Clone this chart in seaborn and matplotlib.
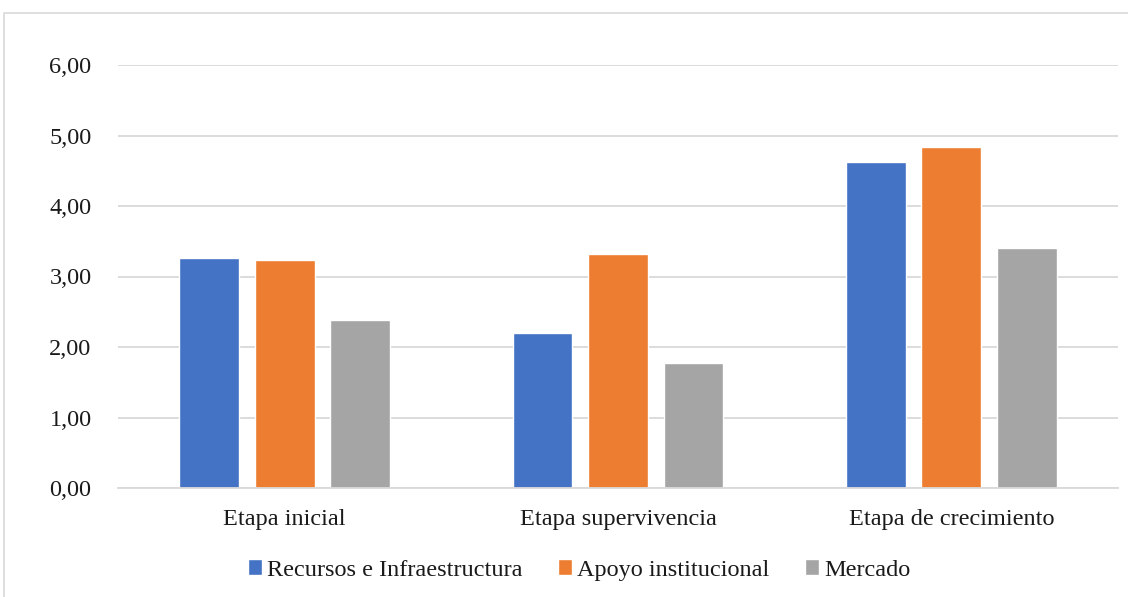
import matplotlib
matplotlib.use("Agg")
import matplotlib.pyplot as plt
from matplotlib.patches import Rectangle
import seaborn as sns
import pandas as pd

# Average scores per stage and factor
etapas = ["Etapa inicial", "Etapa supervivencia", "Etapa de crecimiento"]
factores = ["Recursos e Infraestructura", "Apoyo institucional", "Mercado"]
recursos = [3.26, 2.20, 4.62]
apoyo = [3.24, 3.32, 4.84]
mercado = [2.38, 1.77, 3.40]
y_ticks = [0, 1, 2, 3, 4, 5, 6]
colores = ["#4472C4", "#ED7D31", "#A5A5A5"]

df = pd.DataFrame({
    "Etapa": etapas * 3,
    "Factor": [factores[0]] * 3 + [factores[1]] * 3 + [factores[2]] * 3,
    "Valor": recursos + apoyo + mercado,
})

sns.set_theme(style="white")
plt.rcParams["font.family"] = ["Liberation Serif", "DejaVu Serif"]

W, H = 1128, 597
FS = 17.5
fig = plt.figure(figsize=(W / 100, H / 100), dpi=100)
ax = fig.add_axes([118 / W, 1 - 488 / H, 1000 / W, (488 - 65) / H])

sns.barplot(data=df, x="Etapa", y="Valor", hue="Factor", hue_order=factores,
            order=etapas, palette=colores, width=0.68, gap=0.21,
            saturation=1, ax=ax, legend=True)

ax.set_xlim(-0.5, 2.5)
ax.set_ylim(0, 6)
ax.set_yticks(y_ticks)
ax.set_yticklabels([f"{v:.2f}".replace(".", ",") for v in y_ticks])
ax.yaxis.grid(True, color="#d9d9d9", linewidth=1.3)
ax.set_axisbelow(True)
for s in ["top", "right", "left"]:
    ax.spines[s].set_visible(False)
ax.spines["bottom"].set_color("#d9d9d9")
ax.spines["bottom"].set_linewidth(1.3)
ax.tick_params(axis="both", length=0, labelsize=FS, colors="#1a1a1a")
ax.tick_params(axis="y", pad=19)
ax.tick_params(axis="x", pad=15)
ax.set_xlabel("")
ax.set_ylabel("")

handles, labels = ax.get_legend_handles_labels()
ax.legend(handles, labels, loc="center", bbox_to_anchor=(579 / W, 1 - 570 / H),
          bbox_transform=fig.transFigure, ncol=3, frameon=False,
          fontsize=FS, handlelength=0.6, handleheight=0.6,
          handletextpad=0.2, columnspacing=1.45, labelcolor="#1a1a1a")

# Light chart-area border
fig.add_artist(Rectangle((4 / W, -0.1), 1.2, 1 - 13 / H + 0.1,
                         transform=fig.transFigure, fill=False,
                         edgecolor="#d9d9d9", linewidth=1.2))

fig.savefig("out.png", dpi=100)
